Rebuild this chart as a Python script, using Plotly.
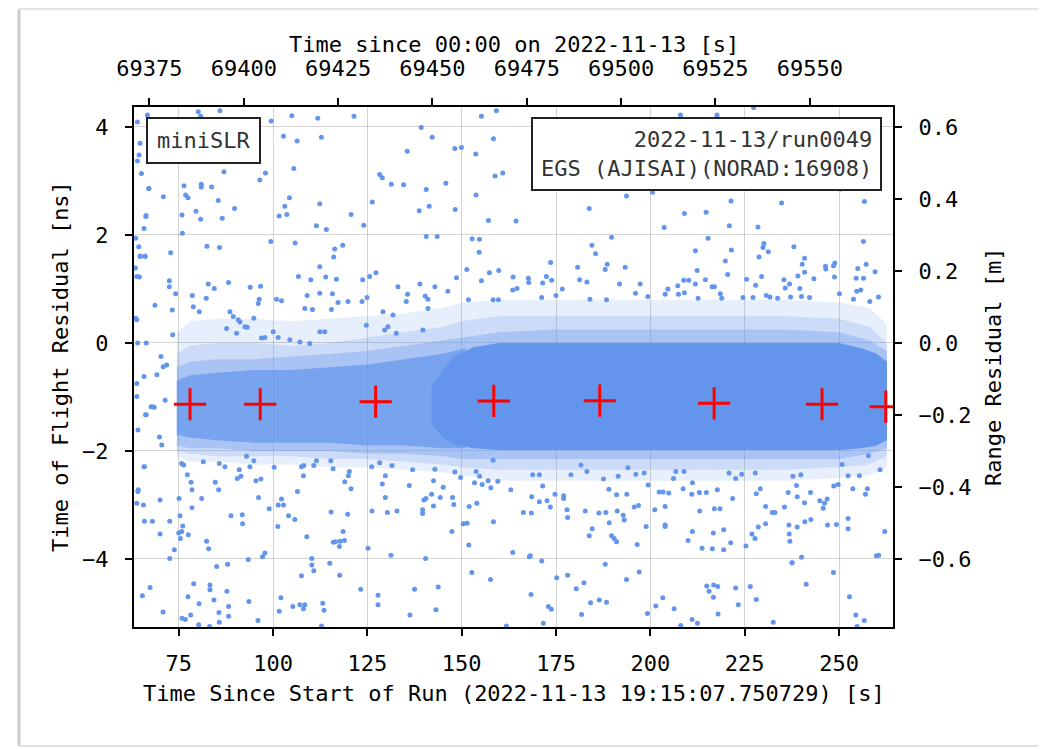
import plotly.graph_objects as go

# ---------------- data (seconds since run start, ns residual) ----------------
RUN_START_SOD = 69307.750729          # 19:15:07.750729 in seconds of day
NS_TO_M = 0.149896229                 # c/2 * 1e-9

x_range = [63.15, 264.31]
y_range = [-5.26, 4.37]

bottom_ticks = [75, 100, 125, 150, 175, 200, 225, 250]
top_ticks = [69375, 69400, 69425, 69450, 69475, 69500, 69525, 69550]
left_ticks = [-4, -2, 0, 2, 4]
right_ticks = [-0.6, -0.4, -0.2, 0.0, 0.2, 0.4, 0.6]

# normal points (red crosses)
np_t = [78.0, 96.6, 127.2, 158.5, 186.6, 216.9, 245.5, 262.4]
np_ns = [-1.135, -1.135, -1.087, -1.074, -1.068, -1.117, -1.135, -1.18]

# envelopes of the dense residual band, outermost first
band_t = [74.5, 78, 85, 95, 105, 115, 125, 135, 145, 150, 160, 175, 190, 205, 220, 235, 250, 258, 262.7]
halo1_hi = [0.2, 0.4, 0.45, 0.45, 0.4, 0.45, 0.5, 0.55, 0.65, 0.75, 0.8, 0.8, 0.8, 0.8, 0.8, 0.8, 0.75, 0.65, 0.35]
halo1_lo = [-2.1, -2.2, -2.2, -2.25, -2.25, -2.3, -2.3, -2.35, -2.4, -2.45, -2.55, -2.55, -2.55, -2.55, -2.55, -2.55, -2.5, -2.45, -2.3]
halo2_hi = [-0.2, -0.05, 0.0, 0.0, -0.05, 0.0, 0.1, 0.2, 0.3, 0.4, 0.5, 0.5, 0.5, 0.5, 0.5, 0.5, 0.45, 0.3, 0.0]
halo2_lo = [-2.0, -2.05, -2.1, -2.1, -2.1, -2.15, -2.15, -2.2, -2.25, -2.3, -2.35, -2.35, -2.35, -2.35, -2.35, -2.35, -2.3, -2.25, -2.1]
halo3_hi = [-0.45, -0.35, -0.3, -0.3, -0.25, -0.2, -0.15, -0.05, 0.05, 0.1, 0.2, 0.25, 0.25, 0.25, 0.25, 0.25, 0.2, 0.05, -0.15]
halo3_lo = [-1.9, -1.95, -1.95, -2.0, -2.0, -2.0, -2.05, -2.05, -2.1, -2.15, -2.15, -2.15, -2.15, -2.15, -2.15, -2.15, -2.15, -2.05, -1.95]

coreL_t = [74.5, 78, 85, 95, 105, 115, 125, 135, 145, 151]
coreL_hi = [-0.7, -0.6, -0.55, -0.5, -0.5, -0.45, -0.4, -0.3, -0.2, -0.1]
coreL_lo = [-1.7, -1.75, -1.8, -1.85, -1.85, -1.85, -1.9, -1.9, -1.95, -1.95]

coreR_t = [142, 145, 148, 153, 160, 175, 190, 205, 220, 235, 250, 256, 260, 262.7]
coreR_hi = [-0.8, -0.5, -0.25, -0.08, 0.0, 0.0, 0.0, 0.0, 0.0, 0.0, 0.0, -0.1, -0.2, -0.35]
coreR_lo = [-1.5, -1.75, -1.88, -1.95, -1.98, -1.98, -1.98, -1.98, -1.98, -1.98, -1.98, -1.95, -1.9, -1.8]

# individual scattered returns (t [s], residual [ns])
pts_upper_left = [
    (64.05, 4.09), (66.70, 4.22), (80.19, 4.28), (85.92, 4.30), (80.81, 4.20), (99.50, 4.11),
    (104.97, 4.21), (111.85, 4.16), (121.46, 4.20), (102.76, 3.83), (106.38, 3.74), (112.82, 3.81),
    (64.76, 3.70), (64.49, 3.48), (64.05, 3.37), (65.11, 3.14), (86.98, 3.17), (98.00, 3.15),
    (96.50, 3.02), (105.50, 3.23), (128.25, 3.12), (128.96, 3.06), (76.40, 2.91), (80.98, 2.94),
    (80.98, 2.89), (83.72, 2.89), (67.05, 2.86), (70.93, 2.71), (76.84, 2.74), (77.46, 2.69),
    (85.48, 2.64), (104.35, 2.69), (112.38, 2.58), (126.31, 2.61), (66.34, 2.36), (75.87, 2.37),
    (79.57, 2.44), (80.81, 2.29), (86.54, 2.31), (89.80, 2.49), (103.12, 2.53), (101.62, 2.35),
    (103.65, 2.38), (120.67, 2.38), (111.50, 2.17), (114.14, 2.10), (124.02, 2.18), (65.82, 2.12),
    (75.96, 2.03), (63.61, 1.94), (64.40, 1.78), (72.87, 1.67), (82.48, 1.79), (85.83, 1.77),
    (99.41, 1.88), (105.85, 1.85), (116.34, 1.74), (118.46, 1.81), (64.76, 1.60), (66.08, 1.60),
    (116.08, 1.59), (64.58, 1.22), (72.52, 1.15), (72.52, 1.04), (74.19, 0.91), (82.84, 1.09),
    (84.42, 1.01), (88.21, 1.12), (93.95, 1.03), (96.68, 1.05), (78.60, 0.88), (82.30, 0.83),
    (96.33, 0.81), (100.91, 0.81), (106.73, 1.23), (110.00, 1.17), (113.96, 1.22), (116.79, 1.18),
    (112.38, 1.41), (123.75, 1.17), (125.60, 1.23), (127.28, 1.30), (109.03, 0.88), (112.38, 0.92),
    (115.73, 0.91), (124.90, 0.84), (63.52, 1.39),
]
pts_upper_mid = [
    (139.27, 3.99), (142.18, 3.81), (135.57, 3.55), (148.18, 3.60), (149.94, 3.62), (153.73, 3.50),
    (155.23, 4.20), (159.20, 4.30), (158.41, 3.78), (158.85, 3.09), (160.88, 3.15), (131.34, 2.94),
    (134.60, 2.93), (140.60, 2.84), (145.80, 2.96), (153.82, 2.74), (138.74, 2.45), (141.39, 2.53),
    (148.27, 2.47), (157.09, 2.27), (164.40, 2.26), (140.60, 1.97), (143.50, 1.97), (152.76, 1.93),
    (154.70, 1.92), (154.62, 1.68), (196.59, 2.94), (193.68, 2.72), (183.80, 2.49), (189.71, 1.96),
    (184.51, 1.81), (185.48, 1.65), (173.58, 1.49), (180.72, 1.40), (188.57, 1.46), (188.04, 1.36),
    (193.33, 1.40), (151.35, 1.36), (148.62, 1.21), (155.23, 1.15), (157.35, 1.30), (159.82, 1.34),
    (163.61, 1.22), (167.67, 1.20), (167.76, 1.12), (171.46, 1.11), (172.43, 1.23), (173.84, 1.16),
    (181.25, 1.17), (183.19, 1.13), (191.83, 1.09), (197.30, 1.09), (133.10, 1.04), (138.92, 1.09),
    (142.89, 1.04), (146.33, 0.96), (135.66, 0.90), (140.33, 0.87), (141.04, 0.81), (151.79, 0.80),
    (158.32, 0.80), (159.73, 0.80), (163.52, 0.98), (164.67, 1.01), (171.19, 0.84), (174.99, 0.88),
    (176.66, 1.00), (183.98, 0.81), (188.39, 0.80), (196.06, 0.92),
]
pts_upper_right = [
    (207.98, 4.22), (217.68, 4.22), (227.38, 4.36), (211.86, 2.94), (214.33, 2.92), (238.66, 2.91),
    (250.39, 2.85), (200.57, 2.79), (221.38, 2.63), (234.78, 2.59), (256.74, 2.62), (209.03, 2.40),
    (214.77, 2.42), (203.66, 2.14), (220.94, 2.17), (228.52, 2.15), (215.30, 1.94), (211.94, 1.71),
    (221.47, 1.72), (230.11, 1.84), (229.85, 1.77), (231.26, 1.69), (228.79, 1.59), (238.05, 1.78),
    (240.87, 1.57), (256.48, 1.88), (219.88, 1.52), (212.39, 1.34), (220.50, 1.27), (225.52, 1.18),
    (227.91, 1.07), (229.49, 1.23), (235.40, 1.17), (236.90, 1.09), (239.10, 1.24), (240.87, 1.31),
    (240.25, 1.46), (243.34, 1.19), (246.51, 1.37), (246.42, 1.42), (248.54, 1.43), (248.89, 1.48),
    (248.81, 1.22), (254.98, 1.38), (257.18, 1.46), (259.56, 1.32), (254.54, 1.20), (256.48, 1.20),
    (254.71, 0.96), (255.77, 0.98), (204.63, 1.00), (207.27, 1.06), (208.86, 1.16), (210.18, 1.16),
    (211.94, 1.09), (214.59, 1.17), (216.35, 1.04), (216.97, 1.04), (203.92, 0.90), (207.45, 0.90),
    (209.03, 0.93), (212.65, 0.83), (218.56, 0.91), (218.91, 0.83), (224.55, 0.84), (227.20, 0.84),
    (230.73, 0.88), (231.70, 0.85), (233.73, 0.83), (235.75, 1.02), (237.16, 0.85), (239.63, 1.01),
    (240.07, 0.86), (242.19, 0.84), (250.13, 0.91), (253.83, 0.81), (258.15, 0.77), (260.45, 0.85),
    (199.33, 0.86),
]
pts_lower_left = [
    (65.91, -2.29), (64.15, -2.75), (63.89, -2.97), (65.65, -3.00), (65.91, -3.30), (68.03, -3.30),
    (70.06, -2.91), (72.62, -3.30), (70.06, -3.54), (73.85, -3.83), (72.62, -3.99), (65.38, -4.68),
    (67.41, -4.53), (70.85, -4.98), (75.09, -2.88), (75.35, -3.20), (76.06, -3.39), (75.79, -3.49),
    (75.00, -3.52), (75.44, -3.62), (77.55, -3.55), (77.29, -2.44), (78.26, -2.58), (78.52, -2.72),
    (78.52, -3.05), (81.08, -2.88), (75.79, -2.23), (76.32, -2.26), (81.52, -2.20), (85.75, -2.23),
    (87.25, -2.29), (84.70, -2.58), (85.58, -2.72), (82.40, -3.67), (82.93, -3.81), (78.96, -4.46),
    (77.46, -4.70), (80.38, -4.83), (83.29, -4.48), (83.29, -4.57), (84.34, -4.76), (85.05, -4.14),
    (87.96, -4.10), (87.78, -4.60), (88.22, -4.88), (88.22, -5.06), (85.67, -4.99), (85.75, -5.17),
    (78.17, -5.04), (75.88, -5.10), (76.76, -5.12), (80.29, -5.22), (83.20, -5.25), (88.84, -3.20),
    (91.84, -3.18), (91.93, -3.35), (90.52, -2.51), (91.05, -2.35), (91.49, -2.47), (93.87, -2.29),
    (94.93, -2.18), (92.99, -2.10), (95.46, -2.55), (96.16, -2.86), (96.78, -2.52), (98.98, -3.07),
    (93.43, -4.01), (93.60, -4.79), (96.00, -5.14), (97.22, -3.96), (97.84, -3.89), (100.30, -2.30),
    (101.36, -3.00), (102.25, -2.89), (102.77, -3.00), (101.28, -3.40), (104.10, -3.20), (105.77, -3.27),
    (102.07, -4.72), (101.63, -4.97), (105.24, -4.88), (107.10, -4.85), (108.06, -4.92), (108.42, -4.85),
    (106.48, -2.75), (107.54, -2.29), (108.15, -2.27), (108.06, -2.46), (110.80, -2.27), (111.50, -2.18),
    (108.95, -3.59), (110.27, -3.99), (110.27, -4.11), (110.80, -4.22), (107.54, -4.31), (113.18, -4.82),
    (113.53, -4.95), (112.83, -5.24), (115.03, -4.08), (115.30, -2.18), (115.91, -2.33), (115.38, -3.13),
    (116.00, -3.69), (116.53, -3.68), (117.59, -3.77), (117.77, -3.67), (118.56, -3.49), (118.91, -3.66),
    (117.68, -4.30), (119.79, -3.17), (119.97, -2.46), (120.67, -2.70), (120.23, -2.38), (119.00, -2.57),
    (123.23, -4.56), (125.17, -3.80), (126.23, -3.11), (126.14, -2.29), (128.26, -2.22), (128.96, -2.61),
    (129.76, -2.46), (129.76, -2.86), (130.29, -3.14), (131.26, -3.93), (131.52, -2.27), (132.84, -3.11),
    (127.82, -4.67), (127.82, -4.85), (136.11, -2.64), (136.99, -2.35), (137.52, -4.56), (136.28, -5.04),
    (139.99, -2.91), (140.52, -2.88), (139.64, -3.09), (139.64, -3.16), (140.43, -3.99), (142.02, -2.80),
    (142.54, -3.02), (142.54, -2.55), (142.90, -2.34), (143.78, -4.52), (143.16, -4.94), (144.31, -2.86),
    (145.10, -2.67), (147.40, -3.49), (147.92, -2.99), (147.57, -2.86), (148.19, -2.39), (149.69, -2.49),
    (150.39, -3.35), (151.45, -3.34), (151.89, -3.74), (151.98, -3.03), (152.69, -4.25), (154.01, -2.97),
    (153.39, -2.59), (153.84, -2.38), (154.72, -2.47), (155.42, -2.62), (157.01, -2.55), (157.72, -2.68),
    (157.63, -4.38), (158.42, -3.31), (158.33, -2.17), (159.56, -2.56), (163.00, -2.72), (163.53, -3.88),
    (161.86, -5.24),
]
pts_lower_right = [
    (168.82, -2.44), (170.58, -2.44), (171.46, -2.65), (168.55, -2.85), (170.58, -2.94), (172.61, -2.92),
    (173.49, -3.04), (166.35, -3.14), (168.46, -3.15), (174.73, -2.80), (177.02, -2.83), (177.02, -2.88),
    (177.90, -3.09), (178.08, -3.23), (178.96, -2.44), (181.60, -2.26), (183.19, -2.38), (182.75, -3.11),
    (183.81, -3.57), (184.60, -3.44), (186.37, -3.15), (188.22, -3.14), (187.60, -2.52), (189.01, -2.71),
    (191.04, -2.81), (191.48, -2.47), (191.22, -3.11), (189.10, -3.33), (189.72, -3.57), (190.42, -3.62),
    (191.04, -3.68), (192.80, -3.19), (193.07, -3.28), (193.77, -2.80), (194.04, -2.31), (196.15, -2.43),
    (196.86, -3.01), (195.71, -3.04), (198.36, -2.41), (199.42, -2.63), (198.89, -3.40), (196.51, -3.73),
    (201.18, -3.09), (202.33, -2.76), (203.38, -2.76), (204.88, -2.78), (203.91, -3.03), (203.91, -3.37),
    (203.91, -3.40), (206.12, -2.51), (206.74, -2.38), (208.94, -2.38), (208.68, -2.70), (211.15, -2.59),
    (210.97, -2.80), (213.09, -3.11), (213.00, -2.77), (214.85, -2.77), (217.76, -2.72), (216.70, -3.52),
    (219.43, -3.46), (221.29, -3.70), (221.81, -2.88), (210.00, -3.66), (211.15, -3.49), (213.70, -3.80),
    (216.44, -3.81), (219.43, -3.83), (216.97, -3.07), (218.46, -3.07), (220.85, -2.41), (222.61, -2.51),
    (224.20, -2.43), (227.81, -2.41), (229.13, -2.70), (228.08, -2.79), (230.55, -3.03), (232.31, -3.14),
    (233.01, -3.14), (230.55, -3.35), (228.60, -3.41), (226.93, -3.54), (227.72, -3.62), (225.34, -3.76),
    (235.57, -3.04), (236.54, -2.77), (238.75, -2.64), (238.92, -2.85), (237.78, -2.47), (239.89, -2.44),
    (240.86, -2.96), (242.45, -2.77), (240.95, -3.31), (242.54, -3.27), (236.72, -3.37), (236.81, -3.54),
    (236.98, -3.67), (238.92, -3.41), (237.51, -4.07), (240.07, -3.97), (244.92, -2.92), (246.16, -2.97),
    (246.86, -2.89), (245.80, -3.06), (246.95, -3.37), (248.62, -2.65), (249.33, -3.36), (249.77, -2.62),
    (250.83, -2.25), (252.41, -2.46), (253.65, -2.70), (255.41, -2.46), (257.53, -2.70), (257.00, -2.80),
    (252.41, -3.25), (252.41, -3.44), (257.79, -2.09), (260.88, -2.35), (262.11, -3.49), (259.91, -3.94),
    (260.53, -3.93), (168.20, -3.94), (167.94, -3.96), (171.20, -4.04), (168.38, -4.66), (175.17, -4.35),
    (178.08, -4.30), (188.04, -4.10), (197.04, -4.24), (193.69, -4.38), (180.37, -4.55), (182.40, -4.44),
    (181.78, -5.03), (184.16, -4.81), (186.45, -4.76), (188.39, -4.80), (172.96, -4.88), (173.76, -4.93),
    (171.64, -5.19), (199.24, -5.01), (201.45, -4.87), (203.30, -4.72), (206.30, -4.92), (208.06, -5.23),
    (211.06, -5.12), (212.47, -5.19), (214.94, -4.50), (215.56, -4.60), (216.79, -4.48), (217.85, -4.51),
    (216.70, -4.71), (217.94, -5.02), (222.61, -4.54), (223.31, -4.85), (226.49, -4.51), (228.08, -4.75),
    (232.57, -5.17), (237.60, -4.07), (241.30, -4.47), (248.53, -4.25), (252.77, -4.70), (254.44, -5.04),
    (256.68, -5.14), (254.80, -5.25),
]
pts_edge = [
    (63.9, 1.23), (64.8, 1.61), (66.1, 1.61), (68.7, 0.70), (63.9, 0.43), (64.1, 0.0), (66.4, 0.0),
    (65.8, -0.62), (70.3, -0.25), (70.9, -0.44), (71.8, -0.41), (73.4, 0.15), (73.3, 0.61),
    (71.4, -1.06), (67.7, -1.18), (68.5, -1.19), (66.4, -1.33), (63.9, -0.99), (69.9, -1.74),
    (70.5, -1.89), (65.8, -2.29), (64.3, -2.72), (63.6, 0.46), (69.2, -0.59), (63.9, -0.75),
    (68.1, -1.18), (66.2, -1.33), (64.2, -1.61), (67.1, 2.86), (66.3, 2.34),
]
pts_halo = [
    (78.87, 0.67), (80.46, 0.58), (88.58, 0.58), (89.46, 0.49), (90.78, 0.43), (91.22, 0.39),
    (87.69, 0.27), (90.34, 0.18), (92.54, 0.30), (93.16, 0.29), (96.07, 0.73), (94.92, 0.46),
    (96.95, 0.09), (97.83, 0.10), (100.04, 0.21), (102.24, 0.78), (108.42, 0.64), (110.44, 0.62),
    (115.47, 0.62), (117.23, 0.75), (119.88, 0.77), (123.58, 0.77), (124.73, 0.33), (129.14, 0.58),
    (130.46, 0.30), (131.79, 0.52), (135.31, 0.77), (141.05, 0.64), (139.72, 0.24), (129.58, 0.24),
    (132.67, 0.18), (113.71, 0.21), (112.39, 0.21), (104.45, 0.06), (107.09, 0.02), (109.74, -0.01),
    (101.36, 0.10),
]

# ---------------- figure ----------------
# the page body has an 8 px margin; the figure is placed so the plot frame
# lands on the same window pixels as in the original screenshot
OFF = 8
W, H = 1046 - OFF, 749 - OFF
PLOT_L, PLOT_R, PLOT_T, PLOT_B = 134, 893, 107, 627      # window pixels of the plot frame
L, T = PLOT_L - OFF, PLOT_T - OFF
R, B = W - (PLOT_R - OFF), H - (PLOT_B - OFF)
PW, PH = W - L - R, H - T - B
FONT = "DejaVu Sans Mono"
FS = 22
BLUE = (100, 149, 237)


def px_x(px):
    return (px - PLOT_L) / PW


def px_y(py):
    return 1 - (py - PLOT_T) / PH


fig = go.Figure()


def band(ts, hi, lo, alpha):
    fig.add_trace(go.Scatter(
        x=list(ts) + list(ts)[::-1], y=list(hi) + list(lo)[::-1],
        fill="toself", mode="lines", line=dict(width=0),
        fillcolor="rgba(%d,%d,%d,%.2f)" % (BLUE + (alpha,)),
        hoverinfo="skip", showlegend=False))


band(band_t, halo1_hi, halo1_lo, 0.15)
band(band_t, halo2_hi, halo2_lo, 0.22)
band(band_t, halo3_hi, halo3_lo, 0.32)
band(coreL_t, coreL_hi, coreL_lo, 0.72)
band(coreR_t, coreR_hi, coreR_lo, 1.0)

all_pts = pts_upper_left + pts_upper_mid + pts_upper_right + pts_lower_left + pts_lower_right + pts_edge + pts_halo
fig.add_trace(go.Scatter(
    x=[p[0] for p in all_pts], y=[p[1] for p in all_pts], mode="markers",
    marker=dict(size=5, color="rgb(%d,%d,%d)" % BLUE, line=dict(width=0)),
    showlegend=False, hoverinfo="skip"))

fig.add_trace(go.Scatter(
    x=np_t, y=np_ns, mode="markers",
    marker=dict(symbol="cross-thin", size=23, line=dict(width=3, color="red"), color="red"),
    showlegend=False, hoverinfo="skip"))

# dummy trace to activate secondary axes
fig.add_trace(go.Scatter(x=[None], y=[None], xaxis="x2", yaxis="y2", showlegend=False, hoverinfo="skip"))

axis_common = dict(
    showline=True, linecolor="black", linewidth=2, ticks="outside", ticklen=7, tickwidth=1.5,
    tickcolor="black", tickfont=dict(family=FONT, size=FS, color="black"), zeroline=False,
)

fig.update_layout(
    width=W, height=H, margin=dict(l=L, r=R, t=T, b=B, autoexpand=False),
    plot_bgcolor="white", paper_bgcolor="white",
    xaxis=dict(range=x_range, tickvals=bottom_ticks, showgrid=True, gridcolor="rgba(0,0,0,0.17)",
               gridwidth=1.2, mirror=True, layer="above traces", ticklabelstandoff=9, **axis_common),
    yaxis=dict(range=y_range, tickvals=left_ticks, showgrid=True, gridcolor="rgba(0,0,0,0.17)",
               gridwidth=1.2, mirror=True, layer="above traces", ticklabelstandoff=12, **axis_common),
    xaxis2=dict(range=[x_range[0] + RUN_START_SOD, x_range[1] + RUN_START_SOD], tickvals=top_ticks,
                tickformat="d", overlaying="x", side="top", anchor="y", showgrid=False,
                layer="above traces", ticklabelstandoff=13, **axis_common),
    yaxis2=dict(range=[y_range[0] * NS_TO_M, y_range[1] * NS_TO_M], tickvals=right_ticks,
                tickformat=".1f", overlaying="y", side="right", anchor="x", showgrid=False,
                layer="above traces", ticklabelstandoff=12, **axis_common),
)

title_font = dict(family=FONT, size=FS, color="black")
fig.add_annotation(text="Time Since Start of Run (2022-11-13 19:15:07.750729) [s]", xref="paper", yref="paper",
                   x=0.5, y=px_y(693), xanchor="center", yanchor="middle", showarrow=False, font=title_font)
fig.add_annotation(text="Time since 00:00 on 2022-11-13 [s]", xref="paper", yref="paper",
                   x=0.5, y=px_y(45), xanchor="center", yanchor="middle", showarrow=False, font=title_font)
fig.add_annotation(text="Time of Flight Residual [ns]", xref="paper", yref="paper", textangle=-90,
                   x=px_x(60), y=px_y(367), xanchor="center", yanchor="middle", showarrow=False, font=title_font)
fig.add_annotation(text="Range Residual [m]", xref="paper", yref="paper", textangle=-90,
                   x=px_x(993), y=px_y(367), xanchor="center", yanchor="middle", showarrow=False, font=title_font)

box_font = dict(family=FONT, size=FS, color="#333333")
fig.add_annotation(text="miniSLR", xref="paper", yref="paper", x=px_x(146), y=px_y(117),
                   xanchor="left", yanchor="top", showarrow=False, font=box_font,
                   bgcolor="white", bordercolor="#222222", borderwidth=2, borderpad=9)
fig.add_annotation(text="2022-11-13/run0049<br>EGS (AJISAI)(NORAD:16908)", xref="paper", yref="paper",
                   x=px_x(882), y=px_y(117), xanchor="right", yanchor="top", align="right",
                   showarrow=False, font=box_font,
                   bgcolor="white", bordercolor="#222222", borderwidth=2, borderpad=8)

# page frame of the screenshot (left edge and top/bottom edges)
fig.add_shape(type="line", xref="paper", yref="paper", x0=px_x(19), x1=px_x(19), y0=px_y(9),
              y1=px_y(746), line=dict(color="#cccccc", width=3))
fig.add_shape(type="line", xref="paper", yref="paper", x0=px_x(19), x1=px_x(1046), y0=px_y(9), y1=px_y(9),
              line=dict(color="#e4e4e4", width=2))
fig.add_shape(type="line", xref="paper", yref="paper", x0=px_x(19), x1=px_x(1046), y0=px_y(746),
              y1=px_y(746), line=dict(color="#e0e0e0", width=2))

fig.write_html("out.html")
